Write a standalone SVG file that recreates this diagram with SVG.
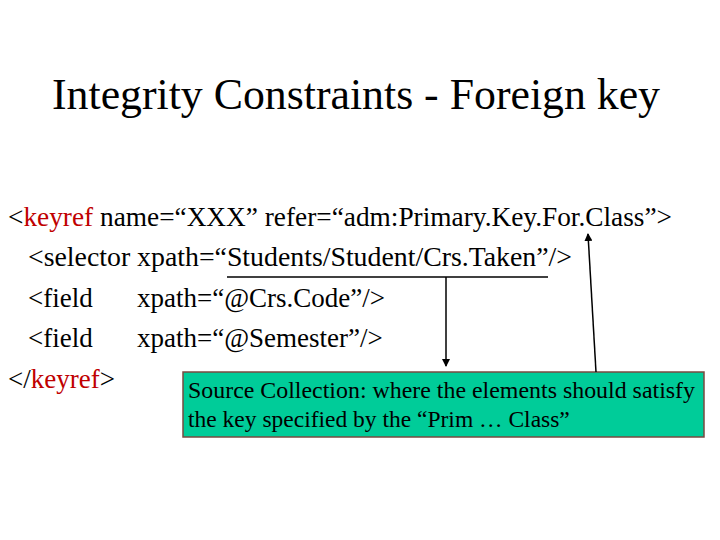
<svg xmlns="http://www.w3.org/2000/svg" width="720" height="540" viewBox="0 0 720 540">
<style>
text{font-family:"Liberation Serif","Times New Roman",serif;fill:#000}
.b{font-size:27px}
.r{fill:#c00000}
.s{font-size:23.5px}
</style>
<defs><marker id="ah" markerWidth="8" markerHeight="8" refX="7" refY="4" orient="auto" markerUnits="userSpaceOnUse"><path d="M0,0 L8,4 L0,8 z" fill="#000"/></marker></defs>
<rect width="720" height="540" fill="#fff"/>
<text x="356" y="109" font-size="44" text-anchor="middle" textLength="608" lengthAdjust="spacingAndGlyphs">Integrity Constraints - Foreign key</text>
<g id="code">
<text class="b" x="8" y="226" textLength="664" lengthAdjust="spacingAndGlyphs">&lt;<tspan class="r">keyref</tspan> name=“XXX” refer=“adm:Primary.Key.For.Class”&gt;</text>
<text class="b" x="28" y="266" textLength="544" lengthAdjust="spacingAndGlyphs">&lt;selector xpath=“Students/Student/Crs.Taken”/&gt;</text>
<text class="b" x="28" y="307">&lt;field</text><text class="b" x="137" y="307">xpath=“@Crs.Code”/&gt;</text>
<text class="b" x="28" y="347">&lt;field</text><text class="b" x="137" y="347">xpath=“@Semester”/&gt;</text>
<text class="b" x="8" y="388">&lt;/<tspan class="r">keyref</tspan>&gt;</text>
</g>
<g id="note">
<rect x="183" y="372" width="521" height="65" fill="#00cc99" stroke="#7a4a40" stroke-width="1.5"/>
<text class="s" x="188" y="398" textLength="507" lengthAdjust="spacingAndGlyphs">Source Collection: where the elements should satisfy</text>
<text class="s" x="188" y="427">the key specified by the “Prim … Class”</text>
</g>
<g id="connectors" stroke="#000" stroke-width="1.5" fill="none">
<line x1="227" y1="277" x2="548" y2="277"/>
<line x1="446" y1="277" x2="446" y2="366" marker-end="url(#ah)"/>
<line x1="596" y1="372" x2="588" y2="234" marker-end="url(#ah)"/>
</g>
</svg>
